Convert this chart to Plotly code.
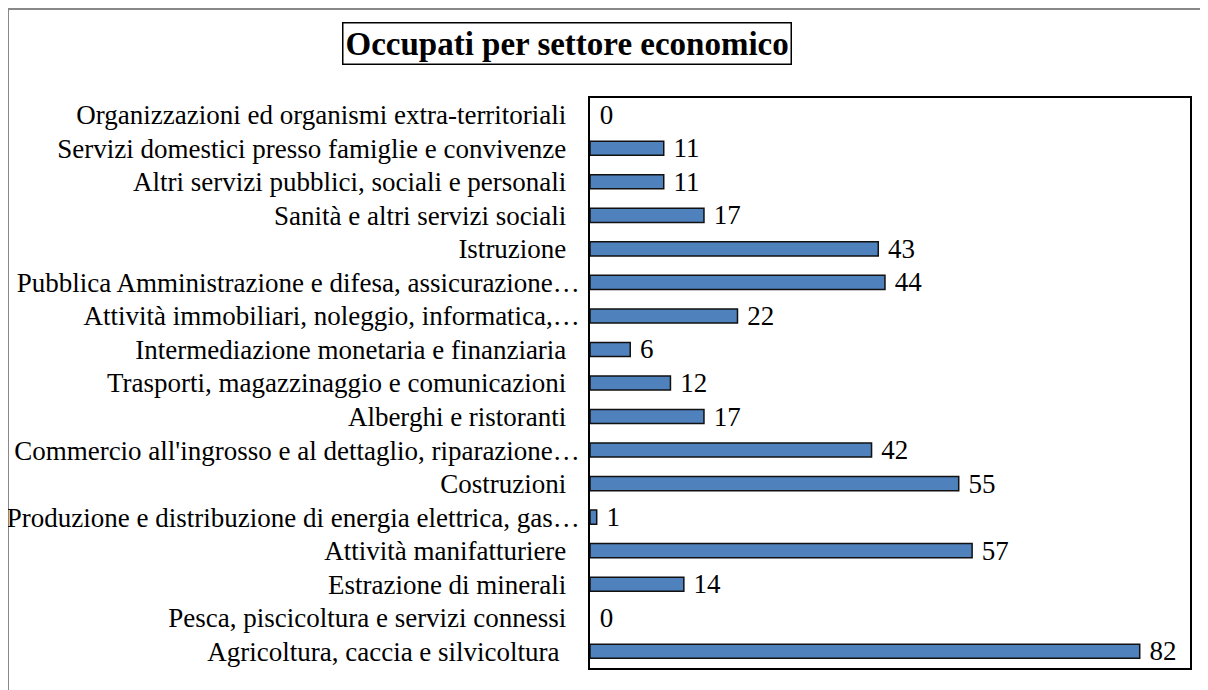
import plotly.graph_objects as go

# settori (dal basso verso l'alto, come nel grafico)
settori = [
    "Agricoltura, caccia e silvicoltura ",
    "Pesca, piscicoltura e servizi connessi",
    "Estrazione di minerali",
    "Attività manifatturiere",
    "Produzione e distribuzione di energia elettrica, gas…",
    "Costruzioni",
    "Commercio all'ingrosso e al dettaglio, riparazione…",
    "Alberghi e ristoranti",
    "Trasporti, magazzinaggio e comunicazioni",
    "Intermediazione monetaria e finanziaria",
    "Attività immobiliari, noleggio, informatica,…",
    "Pubblica Amministrazione e difesa, assicurazione…",
    "Istruzione",
    "Sanità e altri servizi sociali",
    "Altri servizi pubblici, sociali e personali",
    "Servizi domestici presso famiglie e convivenze",
    "Organizzazioni ed organismi extra-territoriali",
]
occupati = [82, 0, 14, 57, 1, 55, 42, 17, 12, 6, 22, 44, 43, 17, 11, 11, 0]

titolo = "Occupati per settore economico"

FONT = "Liberation Serif, Times New Roman, serif"
FS = 27

# le etichette troncate (con …) arrivano fino all'asse, le altre restano staccate
etichette = [s if s.endswith("…") else s + "\u00a0\u00a0" for s in settori]
# niente bordo per le barre a zero (in Excel non si vedono)
bordo = [0 if v == 0 else 1.5 for v in occupati]

fig = go.Figure(go.Bar(
    x=occupati, y=settori, orientation="h",
    marker=dict(color="#4F81BD", line=dict(color="#111111", width=bordo)),
    text=occupati, texttemplate="&nbsp;%{x}", textposition="outside",
    constraintext="none",
    textfont=dict(family=FONT, size=FS, color="black"),
    cliponaxis=False, width=0.42,
))

# la pagina ha un margine di 8px: le coordinate sotto sono quelle dello schermo
OFF = 8
W, H = 1200, 682
L, R, T, B = 590 - OFF, (W + OFF) - 1190, 98 - OFF, (H + OFF) - 668
pw, ph = W - L - R, H - T - B


def px_x(x):
    return (x - OFF - L) / pw


def px_y(y):
    return (H - B - (y - OFF)) / ph


fig.update_layout(
    width=W, height=H,
    margin=dict(l=L, r=R, t=T, b=B, autoexpand=False),
    paper_bgcolor="white", plot_bgcolor="white",
    showlegend=False,
    font=dict(family=FONT, size=FS, color="black"),
    xaxis=dict(range=[0, 89.5], showgrid=False, zeroline=False, showticklabels=False,
               showline=True, linecolor="black", linewidth=1.5, mirror=True, ticks="",
               automargin=False),
    yaxis=dict(range=[-0.5, 16.5], showgrid=False, showline=True, linecolor="black",
               linewidth=1.5, mirror=True, ticks="", ticklabelstandoff=3,
               automargin=False, tickmode="array", tickvals=settori, ticktext=etichette,
               tickfont=dict(family=FONT, size=FS, color="black")),
    annotations=[dict(
        text="<b>" + titolo + "</b>", xref="paper", yref="paper",
        x=px_x(567), y=px_y(43.5), xanchor="center", yanchor="middle",
        showarrow=False, font=dict(family=FONT, size=33, color="black"),
        bordercolor="black", borderwidth=1.5, borderpad=2, bgcolor="white",
    )],
    shapes=[dict(
        type="rect", xref="paper", yref="paper",
        x0=px_x(8), x1=px_x(1230), y0=px_y(720), y1=px_y(9),
        line=dict(color="#888888", width=2), layer="below",
    )],
)

fig.write_html("out.html")
